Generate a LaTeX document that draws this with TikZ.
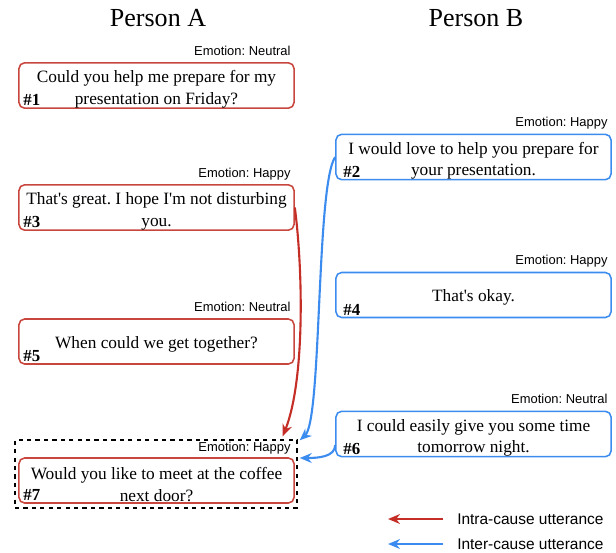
\documentclass[tikz,border=0pt]{standalone}
\usepackage{fontspec}
\setmainfont{Liberation Serif}
\setsansfont{Liberation Sans}
\usepackage{xcolor}
\usetikzlibrary{positioning}
\usetikzlibrary{arrows.meta}
\frenchspacing

\definecolor{intrared}{RGB}{196,46,38}
\definecolor{boxred}{RGB}{200,70,62}
\definecolor{interblue}{RGB}{60,140,240}

\tikzset{
  utter/.style={draw, rounded corners=4pt, line width=1.1pt, minimum width=6.875cm,
    minimum height=1.125cm, align=center, inner sep=0pt,
    font=\fontsize{12.3}{15.6}\selectfont},
  utterA/.style={utter, draw=boxred},
  utterB/.style={utter, draw=interblue},
  emo/.style={font=\sffamily\fontsize{9.2}{11}\selectfont, inner sep=0pt, anchor=base east},
  uid/.style={font=\bfseries\fontsize{12}{14}\selectfont, inner sep=0pt, anchor=base west},
  speaker/.style={font=\fontsize{18.5}{22}\selectfont},
  cause/.style={-{Stealth[length=8.5pt,width=7pt]}, line width=1.5pt},
}

\begin{document}
\begin{tikzpicture}[x=0.025cm, y=-0.025cm]
  \useasboundingbox (0,0) rectangle (616,552);

  \node[speaker] (pa) at (158,18) {Person A};
  \node[speaker] (pb) at (476,18) {Person B};

  % Person A
  \node[utterA] (b1) at (156.5,85.5) {\rule{0pt}{14pt}Could you help me prepare for my\\presentation on Friday?};
  \node[utterA] (b3) at (156.5,207.5) {\rule{0pt}{14pt}That\textquotesingle s great. I hope I\textquotesingle m not disturbing\\you.};
  \node[utterA] (b5) at (156.5,341.5) {\rule{0pt}{12pt}When could we get together?};
  \node[utterA] (b7) at (156.5,480.5) {\rule{0pt}{14pt}Would you like to meet at the coffee\\next door?};

  % Person B
  \node[utterB] (b2) at (473.5,157) {\rule{0pt}{14pt}I would love to help you prepare for\\your presentation.};
  \node[utterB] (b4) at (473.5,295) {\rule{0pt}{12pt}That\textquotesingle s okay.};
  \node[utterB] (b6) at (473.5,434) {\rule{0pt}{14pt}I could easily give you some time\\tomorrow night.};

  \node[emo] (e1) at ([xshift=-0.1cm,yshift=0.175cm]b1.north east) {Emotion: Neutral};
  \node[emo] (e3) at ([xshift=-0.1cm,yshift=0.175cm]b3.north east) {Emotion: Happy};
  \node[emo] (e5) at ([xshift=-0.1cm,yshift=0.175cm]b5.north east) {Emotion: Neutral};
  \node[emo] (e7) at ([xshift=-0.1cm,yshift=0.15cm]b7.north east) {Emotion: Happy};
  \node[emo] (e2) at ([xshift=-0.1cm,yshift=0.175cm]b2.north east) {Emotion: Happy};
  \node[emo] (e4) at ([xshift=-0.1cm,yshift=0.175cm]b4.north east) {Emotion: Happy};
  \node[emo] (e6) at ([xshift=-0.1cm,yshift=0.175cm]b6.north east) {Emotion: Neutral};

  \node[uid] (n1) at ([xshift=0.125cm,yshift=0.075cm]b1.south west) {\#1};
  \node[uid] (n3) at ([xshift=0.125cm,yshift=0.075cm]b3.south west) {\#3};
  \node[uid] (n5) at ([xshift=0.125cm,yshift=0.075cm]b5.south west) {\#5};
  \node[uid] (n7) at ([xshift=0.125cm,yshift=0.075cm]b7.south west) {\#7};
  \node[uid] (n2) at ([xshift=0.2cm,yshift=0.075cm]b2.south west) {\#2};
  \node[uid] (n4) at ([xshift=0.2cm,yshift=0.075cm]b4.south west) {\#4};
  \node[uid] (n6) at ([xshift=0.2cm,yshift=0.075cm]b6.south west) {\#6};

  % target utterance
  \node[draw, dashed, line width=1pt, minimum width=7.05cm, minimum height=1.7cm,
    inner sep=0pt] (focus) at (156,474) {};

  \coordinate (redend) at ([xshift=-0.375cm,yshift=0.075cm]focus.north east);
  \coordinate (blueend1) at ([xshift=0.05cm,yshift=-0.025cm]focus.north east);
  \coordinate (blueend2) at ([xshift=0.05cm,yshift=0.4cm]focus.east);

  \draw[cause, intrared] (b3.east) .. controls (303,270) and (305,380) .. (redend);
  \draw[cause, interblue] (b2.west) .. controls (316,185) and (322,420) .. (blueend1);
  \draw[cause, interblue] ([yshift=-0.275cm]b6.west) .. controls (335,457) and (318,458) .. (blueend2);

  % legend
  \coordinate (l1) at (443,519);
  \coordinate (l2) at (443,544);
  \draw[cause, intrared] (l1) -- ++(-55,0) coordinate (l1e);
  \draw[cause, interblue] (l2) -- ++(-55,0) coordinate (l2e);
  \node[font=\sffamily\fontsize{11}{13}\selectfont, anchor=west, inner sep=0pt] (t1) at ([xshift=0.35cm]l1) {Intra-cause utterance};
  \node[font=\sffamily\fontsize{11}{13}\selectfont, anchor=west, inner sep=0pt] (t2) at ([xshift=0.35cm]l2) {Inter-cause utterance};

\end{tikzpicture}
\end{document}
